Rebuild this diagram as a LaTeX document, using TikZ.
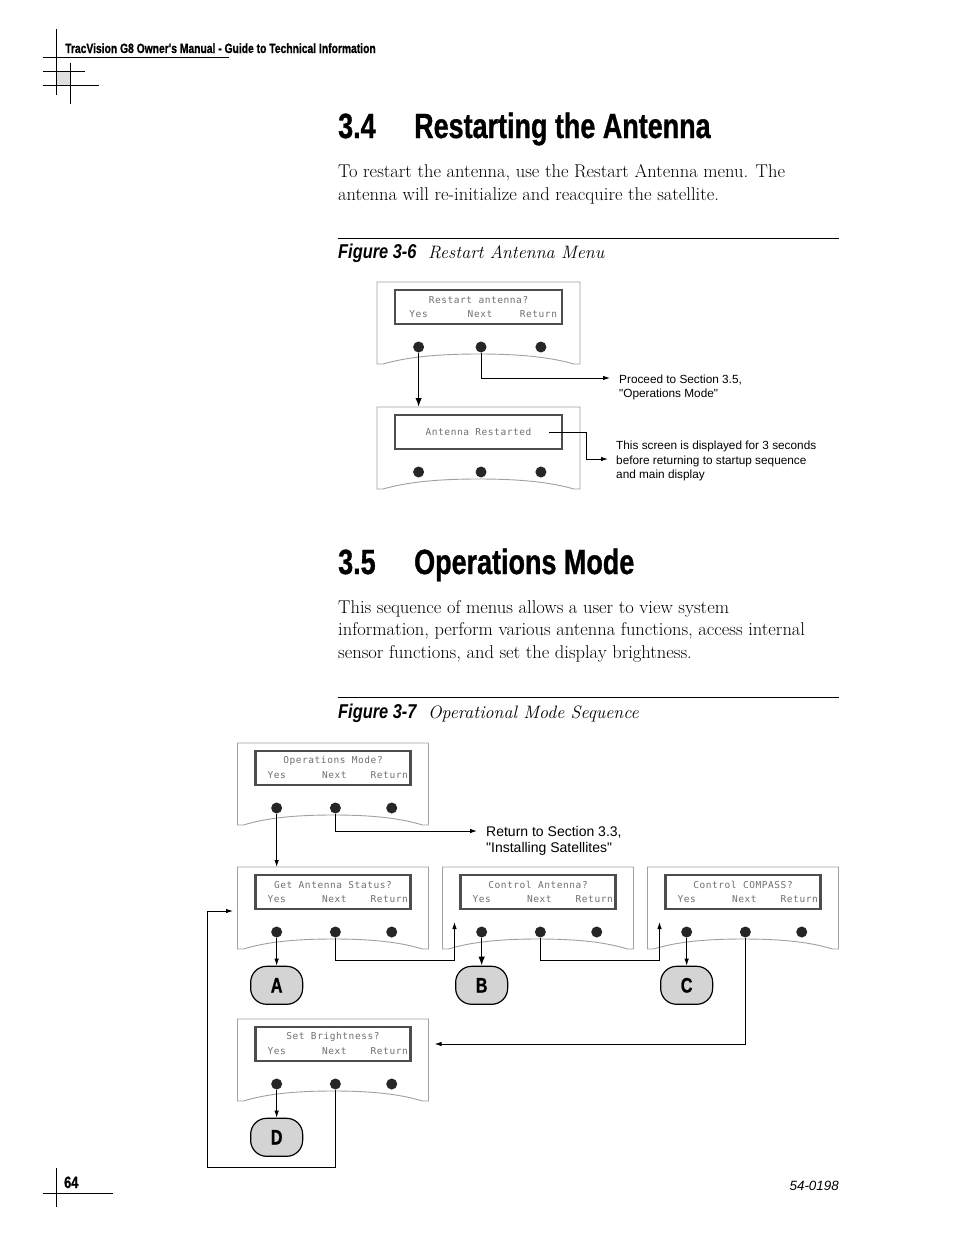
\documentclass[tikz,border=0pt]{standalone}
\usepackage{fontspec}
\usetikzlibrary{arrows.meta,positioning}
\newfontfamily\headfont[FakeStretch=0.77, BoldFeatures={FakeBold=0.9}]{Liberation Sans}
\newfontfamily\figfont[FakeStretch=0.82]{Liberation Sans}
\newfontfamily\notefont{Liberation Sans}
\newfontfamily\lcdfont[LetterSpace=6]{DejaVu Sans Mono}
\definecolor{panelgray}{HTML}{A0A0A0}
\definecolor{lcdgray}{HTML}{4D4D4D}
\definecolor{keygray}{HTML}{707070}
\definecolor{taggray}{HTML}{D4D4D4}

% menu panel: name, top centre, half width
\newcommand{\menupanel}[3]{%
  \begin{scope}[shift={#2}]
    \coordinate (#1-top) at (0,0);
    \coordinate (#1-in) at ({-#3+12},55);
    \draw[panel] ({-#3},82) -- ({-#3},0) -- ({#3},0) -- ({#3},82) -- ({#3-6},82)
      .. controls ({0.7*#3},75) and ({0.4*#3},72) .. (0,72)
      .. controls ({-0.4*#3},72) and ({-0.7*#3},75) .. ({-#3+6},82) -- cycle;
    \node[lcd, minimum width={2*#3-36}] (#1-lcd) at (0,25) {};
    \node[button] (#1-yes) at ({-0.59*#3},65) {};
    \node[button] (#1-next) at ({0.025*#3},65) {};
    \node[button] (#1-ret) at ({0.615*#3},65) {};
  \end{scope}}

% question and soft keys on the display
\newcommand{\menulabels}[2]{%
  \node[lcdtext, yshift=7pt] (#1-q) at (#1-lcd) {#2};
  \node[lcdtext, yshift=-7pt] (#1-kyes) at (#1-yes |- #1-lcd.center) {Yes};
  \node[lcdtext, yshift=-7pt, xshift=-1pt] (#1-knext) at (#1-next |- #1-lcd.center) {Next};
  \node[lcdtext, yshift=-7pt, xshift=-2.5pt] (#1-kret) at (#1-ret |- #1-lcd.center) {Return};}

\begin{document}
\begin{tikzpicture}[x=1pt, y=-1pt,
  panel/.style={draw=panelgray, line width=0.9pt, fill=white},
  lcd/.style={draw=lcdgray, line width=2.2pt, minimum height=34pt, inner sep=0pt},
  lcdtext/.style={font=\lcdfont\fontsize{9.5}{10}\selectfont, text=keygray, inner sep=0pt},
  button/.style={circle, fill=black!85, minimum size=11pt, inner sep=0pt},
  tag/.style={draw, line width=1.2pt, fill=taggray, rounded corners=16pt,
    minimum width=52pt, minimum height=38pt, font=\headfont\bfseries\fontsize{21}{21}\selectfont},
  flow/.style={line width=0.9pt, -{Latex[length=7pt,width=4.5pt]}},
  bigflow/.style={line width=1.6pt, -{Latex[length=9pt,width=6.5pt]}},
  rule/.style={line width=0.8pt},
  body/.style={font=\fontsize{18.5}{23}\selectfont, inner sep=0pt, anchor=base west},
  heading/.style={font=\headfont\bfseries\fontsize{35}{40}\selectfont, inner sep=0pt, anchor=base west},
  figno/.style={font=\figfont\bfseries\itshape\fontsize{20}{22}\selectfont, inner sep=0pt, anchor=base west},
  figname/.style={font=\itshape\fontsize{18}{20}\selectfont, inner sep=0pt, anchor=base west},
  note/.style={font=\notefont\fontsize{11.8}{14.5}\selectfont, align=left, inner sep=0pt, anchor=north west},
]
\useasboundingbox (0,0) rectangle (954,1235);

% running head and crop marks
\fill[gray!25] (56,71) rectangle (70,85);
\draw[rule] (56,29) -- (56,95);
\draw[rule] (70,63) -- (70,104);
\draw[rule] (43,57) -- (229,57);
\draw[rule] (43,71) -- (85,71);
\draw[rule] (43,85) -- (99,85);
\node[inner sep=0pt, anchor=base west, font=\headfont\bfseries\fontsize{13.4}{15}\selectfont]
  (runhead) at (65,53) {TracVision G8 Owner's Manual - Guide to Technical Information};

% section 3.4
\node[heading] (sec34-no) at (338,138) {3.4};
\node[heading] (sec34) at (414,138) {Restarting the Antenna};
\node[body] (intro-1) at (338,177) {To restart the antenna, use the Restart Antenna menu. The};
\node[body] (intro-2) at ([yshift=-23pt]intro-1.base west) {antenna will re-initialize and reacquire the satellite.};
\draw[rule] (338,238) -- (839,238);
\node[figno] (fig36) at (338,258) {Figure 3-6};
\node[figname] (fig36-name) at (428,258) {Restart Antenna Menu};

\menupanel{ra}{(478.5,282)}{101.5}
\menulabels{ra}{Restart antenna?}
\menupanel{rd}{(478.5,407)}{101.5}
\node[lcdtext] (rd-msg) at (rd-lcd) {Antenna Restarted};

\coordinate (ra-out) at (610,378);
\coordinate (rd-out) at (608,459);
\node[note] (ra-note) at (619,374.5) {Proceed to Section 3.5,\\"Operations Mode"};
\node[note] (rd-note) at (616,441) {This screen is displayed for 3 seconds\\before returning to startup sequence\\and main display};

\draw[bigflow] (ra-yes) -- (ra-yes |- rd-top);
\draw[flow] (ra-next) |- (ra-out);
\draw[flow] ([xshift=-14pt]rd-lcd.east) -| ([xshift=-22pt]rd-out) -- (rd-out);

% section 3.5
\node[heading] (sec35-no) at (338,574) {3.5};
\node[heading] (sec35) at (414,574) {Operations Mode};
\node[body] (ops-1) at (338,613) {This sequence of menus allows a user to view system};
\node[body] (ops-2) at ([yshift=-22.5pt]ops-1.base west) {information, perform various antenna functions, access internal};
\node[body] (ops-3) at ([yshift=-22.5pt]ops-2.base west) {sensor functions, and set the display brightness.};
\draw[rule] (338,697) -- (839,697);
\node[figno] (fig37) at (338,718) {Figure 3-7};
\node[figname] (fig37-name) at (428,718) {Operational Mode Sequence};

\menupanel{om}{(333,743)}{95.5}
\menulabels{om}{Operations Mode?}
\menupanel{gas}{(333,867)}{95.5}
\menulabels{gas}{Get Antenna Status?}
\menupanel{ca}{(538,867)}{95.5}
\menulabels{ca}{Control Antenna?}
\menupanel{cc}{(743,867)}{95.5}
\menulabels{cc}{Control COMPASS?}
\menupanel{sb}{(333,1019)}{95.5}
\menulabels{sb}{Set Brightness?}

\node[tag, below=28pt of gas-yes] (tag-a) {A};
\node[tag, below=28pt of ca-yes] (tag-b) {B};
\node[tag, below=28pt of cc-yes] (tag-c) {C};
\node[tag, below=28pt of sb-yes] (tag-d) {D};

\coordinate (om-out) at (477,831);
\coordinate (sb-in) at ([xshift=23pt]sb-lcd.east);
\coordinate (gas-in) at (233,911);
\coordinate (loop) at (207,1167);
\node[note, font=\notefont\fontsize{14}{16}\selectfont] (om-note) at (486,826)
  {Return to Section 3.3,\\"Installing Satellites"};

\draw[flow] (om-yes) -- (om-yes |- gas-top);
\draw[flow] (om-next) |- (om-out);
\draw[flow] (gas-yes) -- (tag-a);
\draw[flow] (gas-next) -- ++(0,28) -| (ca-in);
\draw[bigflow] (ca-yes) -- (tag-b);
\draw[flow] (ca-next) -- ++(0,28) -| (cc-in);
\draw[flow] (cc-yes) -- (tag-c);
\draw[flow] (cc-next) |- (sb-in);
\draw[flow] (sb-yes) -- (tag-d);
\draw[flow] (sb-next) |- (loop) |- (gas-in);

% folio
\draw[rule] (56,1168) -- (56,1207);
\draw[rule] (43,1193) -- (113,1193);
\node[inner sep=0pt, anchor=base west, font=\headfont\bfseries\fontsize{16.5}{18}\selectfont]
  (folio) at (64,1188) {64};
\node[inner sep=0pt, anchor=base east, font=\notefont\itshape\fontsize{13.4}{15}\selectfont]
  (docno) at (839,1190) {54-0198};
\end{tikzpicture}
\end{document}
